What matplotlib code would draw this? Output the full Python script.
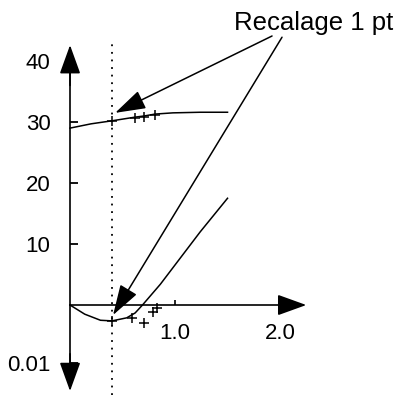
import matplotlib
matplotlib.use("Agg")
import matplotlib.pyplot as plt

plt.rcParams["font.family"] = ["Liberation Sans", "DejaVu Sans"]

# upper curve (scale 10..40)
top_x = [0.0, 0.2, 0.4, 0.62, 0.71, 0.81, 0.98, 1.24, 1.5]
top_y = [29.0, 29.7, 30.2, 30.8, 31.0, 31.3, 31.5, 31.6, 31.6]
top_marks_x = [0.40, 0.62, 0.70, 0.81]
top_marks_y = [30.1, 30.7, 30.9, 31.2]

# lower curve (scale below axis)
low_x = [0.0, 0.14, 0.29, 0.40, 0.54, 0.62, 0.69, 0.86, 1.05, 1.24, 1.5]
low_y = [0.0, -1.5, -2.5, -2.6, -2.1, -1.3, 0.0, 3.4, 7.7, 12.0, 17.5]
low_marks_x = [0.40, 0.59, 0.70, 0.79, 0.83]
low_marks_y = [-2.7, -2.1, -3.0, -1.2, -0.5]

cursor_x = 0.4  # dotted line

ytick_vals = [-9.5, 10, 20, 30, 40]
ytick_labels = ["0.01", "10", "20", "30", "40"]
xtick_vals = [1.0, 2.0]
xtick_labels = ["1.0", "2.0"]

label = "Recalage 1 pt"
label_pos = (2.32, 45.1)
arrow_start = [(1.924, 44.1), (2.019, 43.9)]
arrow_tip = [(0.43, 31.5), (0.41, -1.64)]

fig = plt.figure(figsize=(3.95, 3.95), dpi=100)
ax = fig.add_axes([0, 0, 1, 1])
ax.set_xlim(-0.667, 3.095)
ax.set_ylim(-14.75, 50.0)
ax.patch.set_visible(False)

ax.set_yticks(ytick_vals)
ax.set_yticklabels(ytick_labels)
ax.set_xticks(xtick_vals)
ax.set_xticklabels(xtick_labels)

# axes through origin
for s in ["top", "right"]:
    ax.spines[s].set_visible(False)
ax.spines["left"].set_position(("data", 0))
ax.spines["bottom"].set_position(("data", 0))
ax.spines["left"].set_bounds(-12.0, 40.0)
ax.spines["bottom"].set_bounds(0, 2.1)
for s in ["left", "bottom"]:
    ax.spines[s].set_linewidth(1.2)

ax.tick_params(axis="y", length=0, pad=14, labelsize=16)
ax.tick_params(axis="x", length=0, pad=13, labelsize=16)
# inward tick marks, drawn by hand so they show on the shifted spines
# (the one at 40 sits under the arrowhead)
ax.hlines(ytick_vals[:-1], 0, 0.075, color="k", lw=1.3, zorder=3)
ax.vlines(xtick_vals, 0, 0.9, color="k", lw=1.2, zorder=3)

# arrowheads on the axes
head = dict(arrowstyle="-|>,head_length=1.8,head_width=0.65", color="k",
            lw=1.2, mutation_scale=10, shrinkA=0, shrinkB=0)
ax.annotate("", xy=(0, 42.6), xytext=(0, 36), arrowprops=head)
ax.annotate("", xy=(0, -14.1), xytext=(0, -8), arrowprops=head)
ax.annotate("", xy=(2.25, 0), xytext=(2.0, 0), arrowprops=head)

# dotted cursor
ax.plot([cursor_x, cursor_x], [-14.75, 43.1], color="k", lw=1.3,
        linestyle=(0, (1, 3.2)))

# curves
ax.plot(top_x, top_y, color="k", lw=1.1)
ax.plot(low_x, low_y, color="k", lw=1.1)
ax.plot(top_marks_x, top_marks_y, "k+", ms=7, mew=1.1)
ax.plot(low_marks_x, low_marks_y, "k+", ms=7, mew=1.1)

# annotation
ax.text(label_pos[0], label_pos[1], label, ha="center", va="baseline", fontsize=18.5)
pointer = dict(arrowstyle="-|>,head_length=1.9,head_width=0.6", color="k",
               lw=1.1, mutation_scale=10, shrinkA=0, shrinkB=0)
for start, tip in zip(arrow_start, arrow_tip):
    ax.annotate("", xy=tip, xytext=start, arrowprops=pointer)

fig.savefig("out.png", dpi=100)
